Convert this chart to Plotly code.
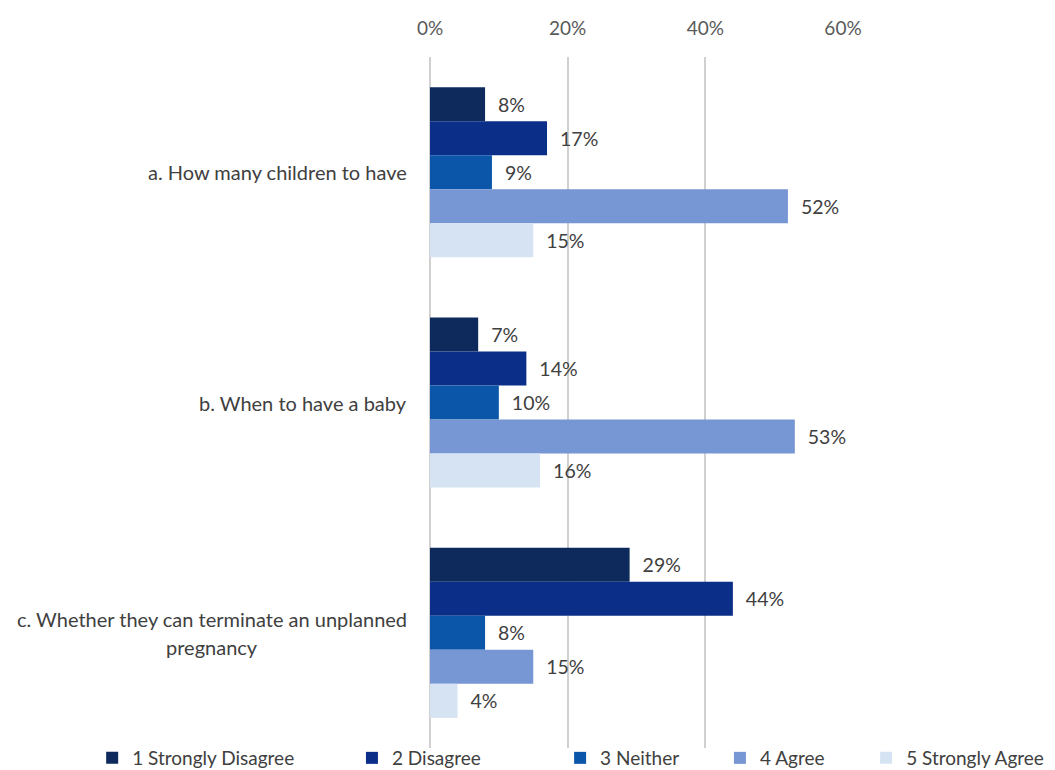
import plotly.graph_objects as go

# Survey items and response shares (%)
questions = [
    "a. How many children to have",
    "b. When to have a baby",
    "c. Whether they can terminate an unplanned",
]
question_c_second_line = "pregnancy"
responses = ["1 Strongly Disagree", "2 Disagree", "3 Neither", "4 Agree", "5 Strongly Agree"]
strongly_disagree = [8, 7, 29]
disagree = [17, 14, 44]
neither = [9, 10, 8]
agree = [52, 53, 15]
strongly_agree = [15, 16, 4]
x_ticks = [0, 20, 40, 60]
x_tick_labels = ["0%", "20%", "40%", "60%"]

series = [strongly_disagree, disagree, neither, agree, strongly_agree]
colors = ["#0e2a5c", "#0b2e88", "#0b56a8", "#7796d4", "#d5e3f3"]
legend_x = [-0.818, -0.189, 0.315, 0.702, 1.056]  # legend slots, paper coords

FONT = "Lato"
TXT = "#404040"

W, H = 1055, 770
M_L, M_R, M_T, M_B = 430, 212, 57, 22

fig = go.Figure()
for i, (name, vals, col) in enumerate(zip(responses, series, colors)):
    fig.add_trace(go.Bar(
        y=list(range(len(questions))),
        x=vals,
        name=name,
        orientation="h",
        marker=dict(color=col, line=dict(width=0)),
        text=[f"  {v}%" for v in vals],
        textposition="outside",
        textfont=dict(family=FONT, size=19.5, color=TXT),
        cliponaxis=False,
        legend="legend" if i == 0 else f"legend{i + 1}",
    ))

# category labels to the left of the plot
annotations = []
for i, q in enumerate(questions):
    shift = 14 if i == 2 else 0
    annotations.append(dict(
        x=0, xref="paper", y=i, yref="y", yshift=shift,
        text=q, showarrow=False, xanchor="right", xshift=-21,
        font=dict(family=FONT, size=20, color=TXT),
    ))
annotations.append(dict(
    x=-0.528, xref="paper", y=2, yref="y", yshift=-14,
    text=question_c_second_line, showarrow=False, xanchor="center",
    font=dict(family=FONT, size=20, color=TXT),
))

legend_common = dict(
    orientation="h", yref="container", yanchor="middle", y=12 / H,
    xanchor="left",
    font=dict(family=FONT, size=19, color=TXT), bgcolor="rgba(0,0,0,0)",
    itemwidth=30, itemclick=False, itemdoubleclick=False,
)
layout_legends = {}
for i, lx in enumerate(legend_x):
    key = "legend" if i == 0 else f"legend{i + 1}"
    layout_legends[key] = dict(legend_common, x=lx)

fig.update_layout(
    width=W, height=H,
    margin=dict(l=M_L, r=M_R, t=M_T, b=M_B, autoexpand=False),
    paper_bgcolor="white", plot_bgcolor="white",
    barmode="group", bargap=0.262, bargroupgap=0,
    showlegend=True,
    xaxis=dict(
        side="top", range=[0, 60], tickvals=x_ticks, ticktext=x_tick_labels,
        showgrid=True, gridcolor="#d0d0d0", gridwidth=1.5,
        zeroline=True, zerolinecolor="#d0d0d0", zerolinewidth=1.5,
        showline=False, ticks="", ticklabelstandoff=17,
        tickfont=dict(family=FONT, size=19, color="#595959"),
    ),
    yaxis=dict(
        autorange="reversed", showticklabels=False, showgrid=False,
        zeroline=False, showline=False,
    ),
    annotations=annotations,
    **layout_legends,
)

fig.write_html("out.html")
